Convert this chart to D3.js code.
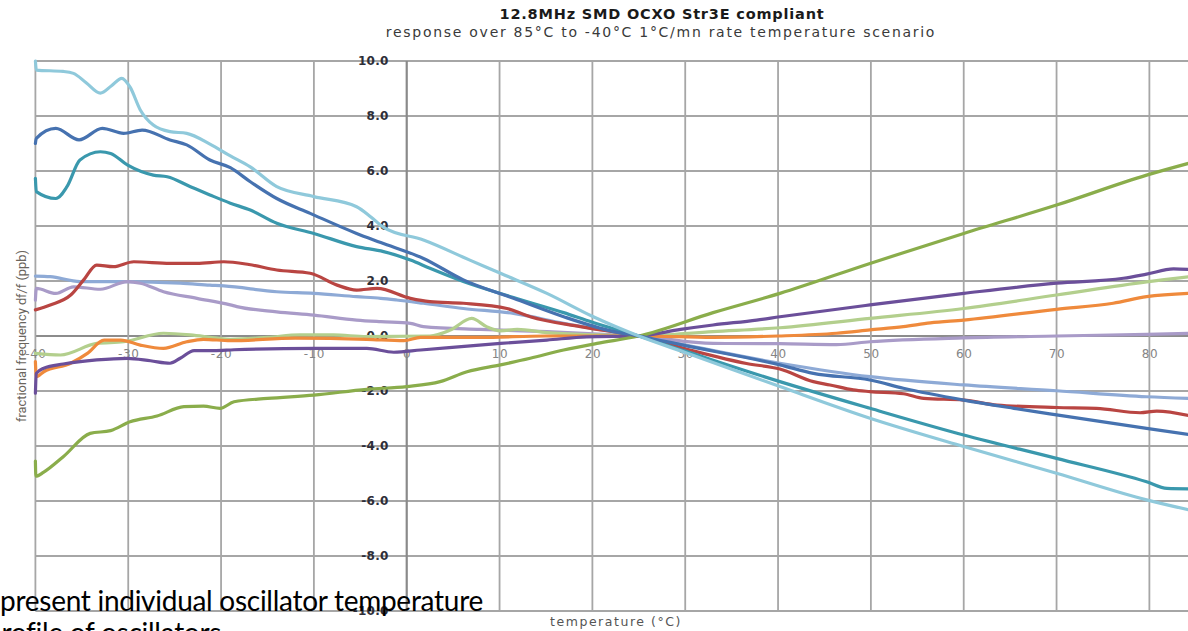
<!DOCTYPE html>
<html><head><meta charset="utf-8">
<script src="https://cdn.jsdelivr.net/npm/d3@7"></script>
<style>html,body{margin:0;padding:0;background:#fff;overflow:hidden}</style>
</head><body>
<svg id="chart" width="1188" height="631"></svg>
<script>
// ---- tick labels ----
const xTicks = [-40,-30,-20,-10,0,10,20,30,40,50,60,70,80];
const yTicks = [-10,-8,-6,-4,-2,0,2,4,6,8,10];

// ---- series (temperature °C, df/f ppb) ----
const lightBlueT = [-40,-39.9,-37,-35.9,-34.5,-33,-31.8,-30.7,-29.8,-28.7,-27.3,-25.5,-23.7,-21.2,-19,-16.9,-14,-10,-5.4,-3.9,-2.5,1.8,6.8,10.1,15.1,20.1,25,30,40.2,49.9,60,70,79.7,85];
const lightBlueV = [10.0,9.67,9.62,9.55,9.2,8.83,9.1,9.37,9.05,8.22,7.67,7.43,7.37,6.98,6.55,6.16,5.43,5.07,4.7,4.34,3.95,3.49,2.76,2.28,1.55,0.7,0,-0.6,-1.84,-2.99,-4.02,-4.99,-5.96,-6.38];

const blueT = [-40,-39.9,-37.8,-35.3,-32.8,-30.5,-28.5,-25.5,-23.7,-21.2,-19,-16.85,-14,-10.4,-5.4,-2.8,1.8,6.1,11.5,16.9,22.3,25,30,40.2,43.8,49.9,53.5,60,65.4,70,79.7,85];
const blueV = [7.0,7.19,7.55,7.13,7.55,7.37,7.49,7.13,6.95,6.4,6.12,5.61,5.0,4.46,3.73,3.4,2.82,2.04,1.37,0.7,0.16,0,-0.35,-1.05,-1.36,-1.6,-1.9,-2.33,-2.63,-2.87,-3.36,-3.62];

const tealT = [-40,-39.9,-37.8,-36.6,-35.2,-33,-31.9,-30.1,-27.3,-25.8,-23.3,-21.2,-19,-16.85,-14,-10,-5.4,-2.5,0.4,2.5,6.1,11.5,16.9,20,25,30,40.2,49.9,60,70,79.7,81.9,85];
const tealV = [5.73,5.25,5.0,5.43,6.4,6.7,6.64,6.22,5.85,5.79,5.43,5.13,4.83,4.58,4.1,3.73,3.25,3.07,2.76,2.46,1.98,1.4,0.85,0.5,0,-0.55,-1.66,-2.63,-3.6,-4.45,-5.3,-5.54,-5.56];

const redT = [-40,-38.4,-36.2,-34.8,-33.4,-31.6,-29.4,-25.5,-22.6,-19.7,-17,-14,-10.4,-7.5,-5.4,-3.2,0.4,2.5,6.1,10.8,13.3,18.7,25,30.5,36.6,40.2,43.8,45.6,48.1,49.9,53.5,55.7,60,63.6,70,74.3,79,80.8,85];
const redV = [0.95,1.13,1.49,2.04,2.58,2.52,2.7,2.64,2.64,2.7,2.6,2.4,2.28,1.85,1.67,1.73,1.37,1.25,1.19,1.0,0.7,0.34,0,-0.51,-1.0,-1.2,-1.66,-1.78,-1.96,-2.02,-2.1,-2.27,-2.33,-2.51,-2.6,-2.63,-2.79,-2.73,-2.95];

const periwinkleT = [-40,-38.4,-35.2,-29.8,-24.4,-21.2,-19.7,-14,-10,-5.4,-2.8,-1.1,1.8,6.1,11.5,16.9,25,40.2,49.9,60,70,79.7,85];
const periwinkleV = [2.18,2.16,1.98,1.98,1.92,1.85,1.82,1.61,1.55,1.43,1.37,1.31,1.19,1.0,0.82,0.46,0,-0.99,-1.48,-1.78,-1.99,-2.21,-2.28];

const lavenderT = [-40,-39.9,-37.8,-35.9,-33,-30.1,-28.7,-26.2,-22.6,-19,-18.3,-14,-10,-5.4,-2.8,0.4,1.8,7.9,15.1,22.3,25,33,40.2,46.3,49.9,60,70,79.7,85];
const lavenderV = [1.3,1.73,1.55,1.79,1.7,1.98,1.92,1.61,1.37,1.13,1.07,0.88,0.76,0.58,0.52,0.46,0.34,0.24,0.16,0.04,0,-0.27,-0.28,-0.31,-0.21,-0.07,0.0,0.06,0.1];

const paleGreenT = [-40,-37.3,-33.4,-30.5,-26.2,-23.3,-20.4,-19,-15,-11.5,-7.9,-4.3,2.5,4.7,7.0,8.6,10.1,11.9,15.1,20.5,25,33,40.2,49.9,60,70,79.7,85];
const paleGreenV = [-0.63,-0.69,-0.27,-0.21,0.1,0.04,-0.08,-0.12,-0.05,0.04,0.04,-0.02,0,0.22,0.64,0.34,0.19,0.24,0.12,0.04,0,0.16,0.3,0.64,1.0,1.49,1.97,2.18];

const orangeT = [-40,-39.9,-39.1,-36.2,-34.4,-32.6,-30.8,-28.7,-26.2,-23.7,-21.9,-19,-12,-4.3,-0.3,1.5,7.9,15,25,33,40,46.3,49.9,53.5,56.4,60,70,76.1,79.7,85];
const orangeV = [-0.93,-1.48,-1.3,-0.99,-0.63,-0.15,-0.15,-0.33,-0.45,-0.21,-0.12,-0.17,-0.08,-0.12,-0.17,-0.05,-0.05,0,0,-0.05,0,0.1,0.22,0.34,0.48,0.58,0.97,1.19,1.43,1.56];

const violetT = [-40,-39.9,-39.1,-37,-33.4,-30.1,-27.6,-25.5,-24.4,-22.9,-20.8,-18.6,-10,-4.3,-1.4,1.5,10.1,15.1,19.4,25,29.5,33,37.7,40.2,49.9,60,70,77.2,79.7,82.6,85];
const violetV = [-2.08,-1.36,-1.17,-1.02,-0.87,-0.81,-0.9,-0.99,-0.81,-0.53,-0.53,-0.5,-0.45,-0.45,-0.59,-0.51,-0.27,-0.15,-0.03,0,0.24,0.4,0.58,0.7,1.13,1.55,1.92,2.1,2.25,2.44,2.4];

const greenT = [-40,-39.95,-39.1,-37,-34.1,-31.9,-29.8,-26.9,-24,-21.9,-20.1,-18.6,-15,-10,-4.3,0,3.6,6.5,10.1,13.3,16.9,20.5,25,33,40.2,49.9,60,70,79.7,85];
const greenV = [-4.55,-5.1,-4.95,-4.39,-3.54,-3.44,-3.12,-2.91,-2.57,-2.55,-2.63,-2.39,-2.27,-2.15,-1.94,-1.84,-1.66,-1.3,-1.05,-0.81,-0.51,-0.27,0,0.85,1.55,2.64,3.73,4.76,5.85,6.35];

const seriesList = [
  {t: periwinkleT, v: periwinkleV, color: "#8eaad6"},
  {t: lavenderT,   v: lavenderV,   color: "#a99bc8"},
  {t: paleGreenT,  v: paleGreenV,  color: "#b3cf8d"},
  {t: orangeT,     v: orangeV,     color: "#ef8a3c"},
  {t: violetT,     v: violetV,     color: "#6b4f9a"},
  {t: greenT,      v: greenV,      color: "#8aad4b"},
  {t: redT,        v: redV,        color: "#b94542"},
  {t: tealT,       v: tealV,       color: "#3a98ad"},
  {t: blueT,       v: blueV,       color: "#4672b0"},
  {t: lightBlueT,  v: lightBlueV,  color: "#8fc9db"}
];

const svg = d3.select("#chart");
const x = d3.scaleLinear().domain([-40, 85]).range([35.4, 1195.8]);
const y = d3.scaleLinear().domain([-10, 10]).range([611, 61]);

function fit(t, w) {
  const cur = t.node().getComputedTextLength();
  const fs = parseFloat(t.attr("font-size"));
  t.attr("font-size", fs * w / cur);
}
function fitSpacing(t, w) {
  const cur = t.node().getComputedTextLength();
  const n = t.text().length;
  t.attr("letter-spacing", (w - cur) / n);
}

// grid
const grid = svg.append("g");
grid.selectAll("line.h").data(yTicks).join("line")
  .attr("x1", x(-40)).attr("x2", 1188)
  .attr("y1", d => y(d)).attr("y2", d => y(d))
  .attr("stroke", d => d === 0 ? "#8c8c8c" : "#a6a6a6")
  .attr("stroke-width", 1.8);
grid.selectAll("line.v").data(xTicks).join("line")
  .attr("x1", d => x(d)).attr("x2", d => x(d))
  .attr("y1", y(10)).attr("y2", y(-10))
  .attr("stroke", d => (d === 0) ? "#8a8a8a" : "#a6a6a6")
  .attr("stroke-width", d => (d === 0) ? 2.2 : 1.8);

// y axis labels
const yAxis = svg.append("g").attr("transform", `translate(${x(0)},0)`)
  .call(d3.axisLeft(y).tickValues(yTicks).tickSize(0).tickPadding(18).tickFormat(d => d.toFixed(1)));
yAxis.select(".domain").remove();
yAxis.selectAll("text")
  .attr("font-family", "DejaVu Sans, Verdana, sans-serif")
  .attr("font-size", 12).attr("font-weight", "bold")
  .attr("letter-spacing", 0.3)
  .attr("fill", "#2e2e38");

// x axis labels
const xAxis = svg.append("g").attr("transform", `translate(0,${y(0)})`)
  .call(d3.axisBottom(x).tickValues(xTicks).tickSize(0).tickPadding(13).tickFormat(d => String(d)));
xAxis.select(".domain").remove();
xAxis.selectAll("text")
  .attr("font-family", "DejaVu Sans, Verdana, sans-serif")
  .attr("font-size", 12)
  .attr("letter-spacing", 0.6)
  .attr("fill", "#858585");

// lines
const line = d3.line().x(d => x(d[0])).y(d => y(d[1])).curve(d3.curveMonotoneX);
svg.append("g").selectAll("path").data(seriesList).join("path")
  .attr("d", s => line(s.t.map((t, i) => [t, s.v[i]])))
  .attr("fill", "none")
  .attr("stroke", s => s.color)
  .attr("stroke-width", 3.2)
  .attr("stroke-linejoin", "round")
  .attr("stroke-linecap", "round");

// titles
const t1 = svg.append("text").attr("x", 662).attr("y", 19).attr("text-anchor", "middle")
  .attr("font-family", "DejaVu Sans, Verdana, sans-serif").attr("font-weight", "bold")
  .attr("font-size", 14.5).attr("fill", "#1a1a1a")
  .text("12.8MHz SMD OCXO Str3E compliant");
fitSpacing(t1, 325);
const t2 = svg.append("text").attr("x", 661).attr("y", 37).attr("text-anchor", "middle")
  .attr("font-family", "DejaVu Sans, Verdana, sans-serif")
  .attr("font-size", 14).attr("fill", "#3a3a3a")
  .text("response over 85°C to -40°C  1°C/mn rate temperature scenario");
fitSpacing(t2, 552);

// axis titles
const xt = svg.append("text").attr("x", 616).attr("y", 626).attr("text-anchor", "middle")
  .attr("font-family", "DejaVu Sans, Verdana, sans-serif")
  .attr("font-size", 12.5).attr("fill", "#555")
  .text("temperature (°C)");
fitSpacing(xt, 132);
const yt = svg.append("text").attr("transform", "translate(26,336) rotate(-90)").attr("text-anchor", "middle")
  .attr("font-family", "Liberation Sans Narrow, Roboto, sans-serif")
  .attr("font-size", 13).attr("fill", "#6a655d")
  .text("fractional frequency df/f (ppb)");
fit(yt, 172);

// overlaid document text
const o1 = svg.append("text").attr("x", 0).attr("y", 611)
  .attr("font-family", "Lato, Open Sans, sans-serif")
  .attr("font-size", 28).attr("fill", "#000")
  .text("present individual oscillator temperature");
fitSpacing(o1, 483);
svg.append("text").attr("x", -14).attr("y", 643)
  .attr("font-family", "Lato, Open Sans, sans-serif")
  .attr("font-size", 28).attr("fill", "#000")
  .attr("letter-spacing", o1.attr("letter-spacing"))
  .text("profile of oscillators");
</script>
</body></html>
